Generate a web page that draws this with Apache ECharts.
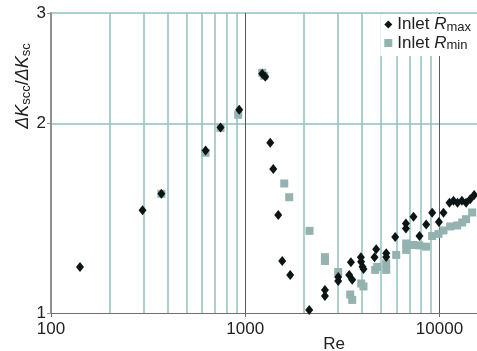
<!DOCTYPE html>
<html>
<head>
<meta charset="utf-8">
<script src="https://cdn.jsdelivr.net/npm/echarts@6/dist/echarts.min.js"></script>
<style>
  html, body { margin: 0; padding: 0; background: #fff; }
  #chart { width: 477px; height: 351px; }
</style>
</head>
<body>
<div id="chart"></div>
<script>
// Inlet Rmax (diamonds)
const reMax = [141, 296, 370, 625, 746, 931, 1223, 1268, 1345, 1394,
  1479, 1550, 1704, 2135, 2572, 2572, 3010, 3010, 3500, 3429,
  3554, 3939, 3948, 4015, 4063, 4722, 4629, 5318, 5318, 5916,
  6716, 6716, 7348, 7889, 8543, 9170, 9929, 10486, 11259, 11803,
  12379, 13045, 13706, 14388, 15089];
const kMax = [1.184, 1.457, 1.547, 1.813, 1.972, 2.105, 2.401, 2.375, 1.865, 1.695,
  1.432, 1.210, 1.149, 1.011, 1.088, 1.064, 1.141, 1.124, 1.204, 1.149,
  1.129, 1.227, 1.206, 1.185, 1.175, 1.263, 1.226, 1.245, 1.228, 1.321,
  1.388, 1.363, 1.422, 1.326, 1.383, 1.443, 1.396, 1.443, 1.497, 1.509,
  1.498, 1.509, 1.498, 1.517, 1.541];

// Inlet Rmin (squares)
const reMin = [370, 625, 746, 920, 1223, 1253, 1588, 1684, 2142, 2572,
  2572, 3010, 3471, 3554, 3954, 4063, 4667, 4779, 5318, 5318,
  5987, 6739, 6739, 7321, 7861, 8543, 9170, 9883, 10486, 11352,
  12336, 13090, 13706, 14734];
const kMin = [1.547, 1.798, 1.970, 2.067, 2.410, 2.384, 1.607, 1.528, 1.351, 1.227,
  1.210, 1.162, 1.070, 1.049, 1.114, 1.102, 1.171, 1.184, 1.199, 1.171,
  1.237, 1.290, 1.260, 1.283, 1.281, 1.275, 1.326, 1.336, 1.353, 1.373,
  1.378, 1.393, 1.410, 1.445];

// minor vertical gridlines of the log axis
const minorRe = [200, 300, 400, 500, 600, 700, 800, 900,
  2000, 3000, 4000, 5000, 6000, 7000, 8000, 9000];

const FONT = 'Liberation Sans, Arial, sans-serif';
const TEAL = '#90c0bc';

const chart = echarts.init(document.getElementById('chart'));

const zip = (xs, ys) => xs.map((x, i) => [x, ys[i]]);

chart.setOption({
  animation: false,
  textStyle: { fontFamily: FONT },
  grid: { left: 51, right: 0, top: 13, bottom: 38 },
  legend: {
    data: ['max', 'min'],
    orient: 'vertical',
    right: 0,
    top: 14,
    z: 50,
    padding: [2, 6, 4, 4],
    itemGap: 1,
    itemWidth: 8,
    itemHeight: 8,
    backgroundColor: '#fff',
    formatter: name => '{n|Inlet }{i|R}{s|' + name + '}',
    textStyle: {
      color: '#222',
      fontSize: 17,
      rich: {
        n: { fontSize: 17, lineHeight: 18, color: '#222', fontFamily: FONT },
        i: { fontSize: 17, lineHeight: 18, color: '#222', fontStyle: 'italic', fontFamily: FONT },
        s: { fontSize: 13, lineHeight: 8, color: '#222', verticalAlign: 'bottom', fontFamily: FONT }
      }
    }
  },
  xAxis: {
    type: 'log',
    logBase: 10,
    min: 100,
    max: 15600,
    axisLine: { lineStyle: { color: '#707070', width: 1 } },
    axisTick: { length: 4, lineStyle: { color: '#707070' } },
    axisLabel: {
      fontSize: 17, color: '#222', margin: 8, showMaxLabel: false, fontFamily: FONT,
      formatter: v => String(Math.round(v))
    },
    splitLine: { show: true, showMinLine: false, showMaxLine: false, lineStyle: { color: '#5a5a5a', width: 1 } }
  },
  yAxis: {
    type: 'log',
    logBase: 2,
    min: 1,
    max: 3,
    axisLine: { lineStyle: { color: '#8f8f8f', width: 2 } },
    axisTick: { show: true, length: 4, lineStyle: { color: '#8f8f8f' } },
    axisLabel: { fontSize: 17, color: '#222', margin: 5, fontFamily: FONT, formatter: v => String(Math.round(v)) },
    splitLine: { show: true, showMinLine: false, lineStyle: { color: TEAL, width: 1.5 } }
  },
  graphic: [
    {
      type: 'text',
      x: 23,
      y: 86,
      rotation: Math.PI / 2,
      style: {
        text: '{i|ΔK}{s|scc}{n|/}{i|ΔK}{s|sc}',
        align: 'center',
        verticalAlign: 'middle',
        rich: {
          n: { fontSize: 18, lineHeight: 20, fill: '#222', fontFamily: FONT },
          i: { fontSize: 18, lineHeight: 20, fill: '#222', fontStyle: 'italic', fontFamily: FONT },
          s: { fontSize: 13, lineHeight: 8, fill: '#222', verticalAlign: 'bottom', fontFamily: FONT }
        }
      }
    },
    {
      type: 'text',
      x: 334,
      y: 344,
      style: { text: 'Re', fontSize: 17, fill: '#222', align: 'center', verticalAlign: 'middle', fontFamily: FONT }
    }
  ],
  series: [
    {
      name: 'min',
      type: 'scatter',
      symbol: 'rect',
      symbolSize: 8,
      itemStyle: { color: '#93b2b0', opacity: 1 },
      data: zip(reMin, kMin),
      markLine: {
        silent: true,
        symbol: 'none',
        z: 1,
        label: { show: false },
        lineStyle: { color: TEAL, width: 1.5, type: 'solid', opacity: 1 },
        emphasis: { disabled: true },
        data: minorRe.map(v => ({ xAxis: v }))
      }
    },
    {
      name: 'max',
      type: 'scatter',
      symbol: 'diamond',
      symbolSize: [8, 10],
      itemStyle: { color: '#0c1515', opacity: 1 },
      data: zip(reMax, kMax)
    }
  ]
});
</script>
</body>
</html>
